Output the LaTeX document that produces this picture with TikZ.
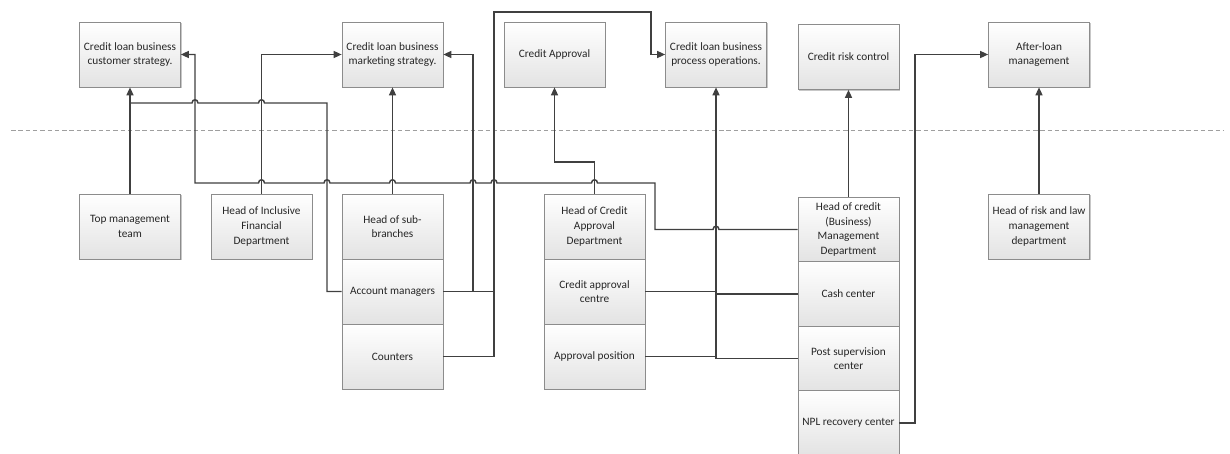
\documentclass[tikz,border=0pt]{standalone}
\usepackage{fontspec}
\setmainfont{Carlito}
\usetikzlibrary{arrows.meta,shadows}
\definecolor{wirecol}{HTML}{404040}
\definecolor{framecol}{HTML}{8C8C8C}
\definecolor{inkcol}{HTML}{262626}
% line hops over a crossing vertical line (rightwards / leftwards)
\newcommand\hopr[2]{-- (#1-3,#2) .. controls (#1-3,#2-4.3) and (#1+3,#2-4.3) .. (#1+3,#2)}
\newcommand\hopl[2]{-- (#1+3,#2) .. controls (#1+3,#2-4.3) and (#1-3,#2-4.3) .. (#1-3,#2)}
\begin{document}
\begin{tikzpicture}[x=1pt,y=-1pt,
  box/.style={draw=framecol, line width=0.7pt, top color=white, bottom color=black!11,
    minimum width=101pt, minimum height=65pt, inner sep=2pt, align=center,
    text=inkcol, font=\fontsize{11.3}{14.6}\selectfont,
    drop shadow={shadow xshift=1.3pt, shadow yshift=-1.3pt, opacity=0.22, fill=black}},
  wire/.style={draw=wirecol, line width=1.45pt},
  arr/.style={wire, -{Triangle[length=8pt,width=7pt]}}]
\fill[white] (0,0) rectangle (1230,453);
\useasboundingbox (0,0) rectangle (1230,453);

% separator between strategy level and organisation level
\coordinate (sepL) at (11,130);
\coordinate (sepR) at (1224,130);
\draw[gray!75, line width=0.9pt, dash pattern=on 4.5pt off 2.8pt] (sepL) -- (sepR);

% upper row: business functions
\node[box] (cs) at (130,54.5) {Credit loan business\\customer strategy.};
\node[box] (ms) at (392.5,54.5) {Credit loan business\\marketing strategy.};
\node[box] (ca) at (554.5,54.5) {Credit Approval};
\node[box] (po) at (716,54.5) {Credit loan business\\process operations.};
\node[box] (rc) at (848.5,57) {Credit risk control};
\node[box] (al) at (1039,54.5) {After-loan\\management};

% lower row: organisation units
\node[box] (tm) at (130,226.5) {Top management\\team};
\node[box] (hif) at (261.5,226.5) {Head of Inclusive\\Financial\\Department};
\node[box] (hsb) at (392.5,226.5) {Head of sub-\\branches};
\node[box] (amg) at (392.5,291.5) {Account managers};
\node[box] (ctr) at (392.5,356.5) {Counters};
\node[box] (hca) at (594.5,226.5) {Head of Credit\\Approval\\Department};
\node[box] (cac) at (594.5,291.5) {Credit approval\\centre};
\node[box] (ap) at (594.5,356.5) {Approval position};
\node[box] (hcm) at (848.5,229.5) {Head of credit\\(Business)\\Management\\Department};
\node[box] (cash) at (848.5,294) {Cash center};
\node[box] (psc) at (848.5,358.5) {Post supervision\\center};
\node[box] (npl) at (848.5,423) {NPL recovery center};
\node[box] (hrl) at (1039,226.5) {Head of risk and law\\management\\department};

% connectors
\draw[arr] (tm.north) -- (cs.south);
\coordinate (jcs) at (130,103);
\draw[wire] (amg.west) -- (327,291.5) -- (327,103) \hopl{261.5}{103} \hopl{195}{103} -- (jcs);

\draw[arr] (hif.north) -- (261.5,54.5) -- (ms.west);
\draw[arr] (hsb.north) -- (ms.south);
\draw[arr] (amg.east) -- (473,291.5) -- (473,54.5) -- (ms.east);
\draw[wire] (473,291.5) -- (494,291.5);
\draw[arr] (ctr.east) -- (494,356.5) -- (494,12) -- (651,12) -- (651,54.5) -- (po.west);

\draw[arr] (hca.north) -- (594.5,162) -- (554.5,162) -- (ca.south);

\draw[arr] (psc.west) -- (716,358.5) -- (po.south);
\draw[wire] (ap.east) -- (716,356.5);
\draw[wire] (cac.east) -- (716,291.5);
\draw[wire] (cash.west) -- (716,294);

\draw[arr] (hcm.west) \hopl{716}{229.5} -- (655,229.5) -- (655,183)
  \hopl{594.5}{183} \hopl{494}{183} \hopl{473}{183} \hopl{392.5}{183}
  \hopl{327}{183} \hopl{261.5}{183} -- (195,183) -- (195,54.5) -- (cs.east);

\draw[arr] (hcm.north) -- (rc.south);
\draw[arr] (npl.east) -- (915,423) -- (915,54.5) -- (al.west);
\draw[arr] (hrl.north) -- (al.south);
\end{tikzpicture}
\end{document}
